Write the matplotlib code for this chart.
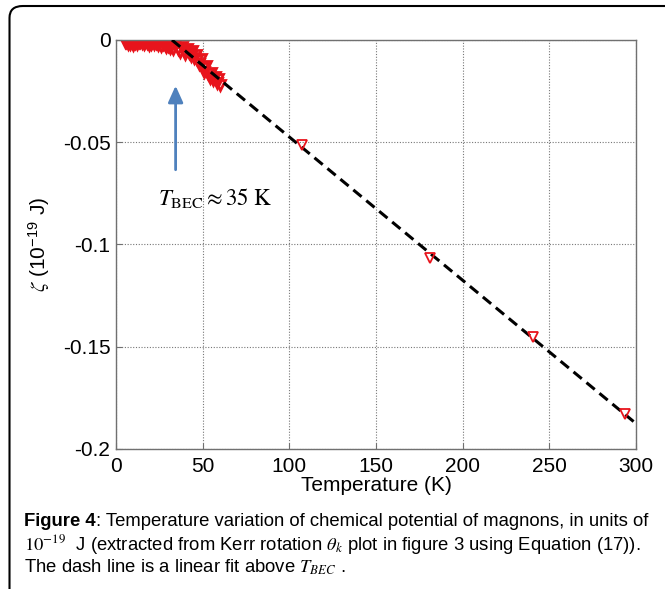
import matplotlib
matplotlib.use('Agg')
import matplotlib.pyplot as plt
from matplotlib.patches import FancyBboxPatch

plt.rcParams['font.family'] = ['Liberation Sans', 'DejaVu Sans']
plt.rcParams['mathtext.fontset'] = 'stix'

# low temperature data (dense cluster)
temp_low = [5, 6, 7, 8, 9, 10, 11, 12, 13, 14, 15, 16, 17, 18, 19, 20, 21, 22, 23, 24,
            25, 26, 27, 28, 29, 30, 31, 32, 33, 34, 35, 36, 37, 38, 39, 40, 41, 42, 43, 44,
            45, 46, 47, 48, 49, 50, 51, 52, 53, 54, 55, 56, 57, 58, 59, 60]
zeta_low = [-0.0008, -0.0012, -0.0018, -0.0022, -0.0012, -0.0026, -0.0016, -0.0021, -0.0011, -0.0009,
            -0.0014, -0.0022, -0.0012, -0.0016, -0.0026, -0.0019, -0.0012, -0.0022, -0.0014, -0.0024,
            -0.0016, -0.0030, -0.0021, -0.0026, -0.0036, -0.0029, -0.0040, -0.0031, -0.0045, -0.0020,
            -0.0006, -0.0042, -0.0058, -0.0034, -0.0052, -0.0068, -0.0045, -0.0062, -0.0078, -0.0055,
            -0.0088, -0.0072, -0.0100, -0.0118, -0.0095, -0.0135, -0.0155, -0.0128, -0.0165, -0.0185,
            -0.0160, -0.0198, -0.0180, -0.0212, -0.0192, -0.0220]

# high temperature points
temp_high = [107.5, 181, 240.7, 293.8]
zeta_high = [-0.0513, -0.1064, -0.1453, -0.1830]

# linear fit above T_BEC
fit_t = [32.3, 299.5]
fit_zeta = [0.0, -0.1872]

xticks = [0, 50, 100, 150, 200, 250, 300]
yticks = [0, -0.05, -0.1, -0.15, -0.2]
ytick_labels = ['0', '-0.05', '-0.1', '-0.15', '-0.2']

fig = plt.figure(figsize=(6.65, 5.89), dpi=100)
ax = fig.add_axes([0.1744, 0.2377, 0.782, 0.6944])

ax.plot(fit_t, fit_zeta, color='black', ls=(0, (3.5, 2)), lw=2.2, zorder=3)
ax.plot(temp_low, zeta_low, ls='none', marker='v', ms=7.5, mfc='none', mec='#e8141c', mew=2.0, zorder=2)
ax.plot(temp_high, zeta_high, ls='none', marker='v', ms=7, mfc='none', mec='#e8141c', mew=1.3, zorder=4)

ax.annotate('', xy=(34.4, -0.021), xytext=(34.4, -0.0648),
            arrowprops=dict(arrowstyle='-|>,head_width=0.45,head_length=1.0', color='#4f81bd', lw=2))
ax.text(24, -0.0775, r'$T_{\rm BEC} \approx 35\ {\rm K}$', fontsize=16.5, va='center', ha='left')

ax.set_xlim(0, 300)
ax.set_ylim(-0.2, 0)
ax.set_xticks(xticks)
ax.set_yticks(yticks)
ax.set_yticklabels(ytick_labels)
ax.tick_params(direction='in', length=4, width=0.8, color='#707070', labelsize=15)
ax.tick_params(axis='x', pad=6)
ax.tick_params(axis='y', pad=4)
ax.grid(True, ls=(0, (1, 1.5)), color='#777777', lw=0.8)
for s in ax.spines.values():
    s.set_color('#707070')
    s.set_linewidth(1.0)

ax.set_xlabel('Temperature (K)', fontsize=15, labelpad=0)
ax.set_ylabel(r'$\zeta$ (10$^{\mathregular{-19}}$ J)', fontsize=15, labelpad=8)

# frame around figure + caption
frame = FancyBboxPatch((0.0143, -0.2), 1.3, 1.1898, boxstyle='round,pad=0,rounding_size=0.02',
                       transform=fig.transFigure, fill=False, lw=1.5, ec='black')
fig.patches.append(frame)

cap_x = 0.036
cap_fs = 13.3
t1 = fig.text(cap_x, 1 - 522 / 589, 'Figure 4', fontsize=cap_fs, fontweight='bold', va='center')
fig.canvas.draw()
bb = t1.get_window_extent()
fig.text(bb.x1 / fig.bbox.width, 1 - 522 / 589,
         ': Temperature variation of chemical potential of magnons, in units of',
         fontsize=cap_fs, va='center')
fig.text(cap_x, 1 - 545 / 589,
         r'$10^{-19}$  J (extracted from Kerr rotation $\theta_k$ plot in figure 3 using Equation (17)).',
         fontsize=cap_fs, va='center')
fig.text(cap_x, 1 - 567 / 589, r'The dash line is a linear fit above $T_{BEC}$ .',
         fontsize=cap_fs, va='center')

fig.savefig('out.png', dpi=100)
